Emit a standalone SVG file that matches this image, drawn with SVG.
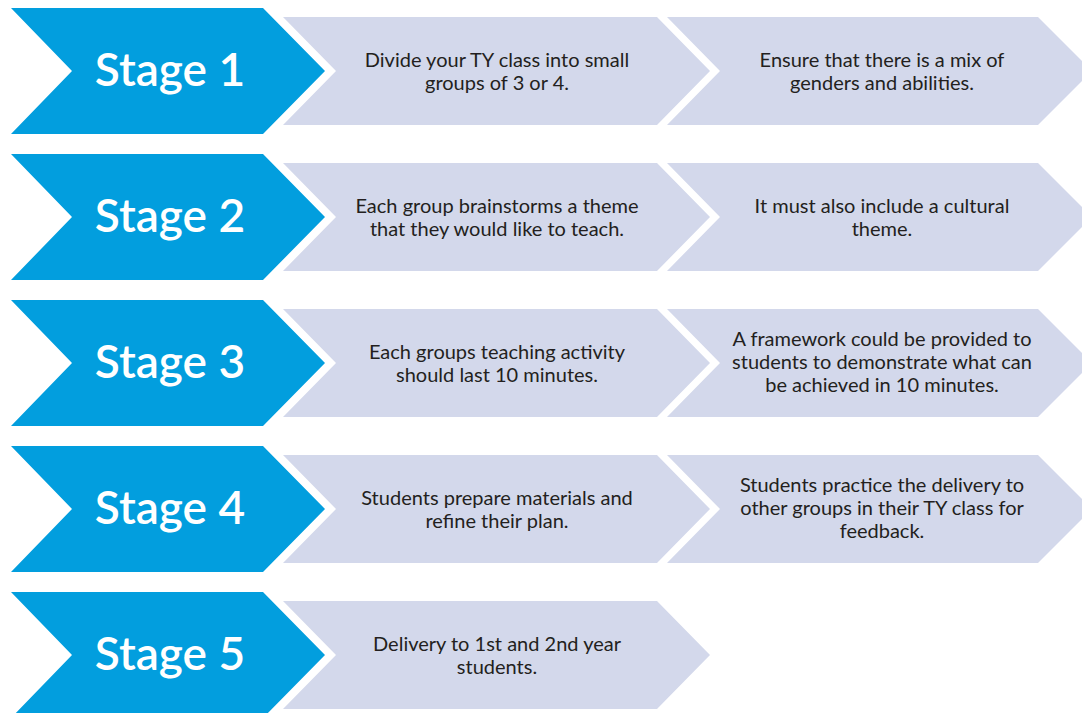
<svg xmlns="http://www.w3.org/2000/svg" width="1082" height="713" viewBox="0 0 1082 713">
  <style>
    .stage { fill: #029ede; }
    .step { fill: #d3d8eb; }
    .stage-label { font-family: Lato, "Noto Sans", sans-serif; font-weight: 600; font-size: 46px; fill: #ffffff; text-anchor: middle; }
    .note { font-family: Lato, "Noto Sans", sans-serif; font-size: 20px; fill: #231f20; text-anchor: middle; }
  </style>
  <defs>
    <polygon id="stage-shape" points="11,8 263,8 325,71 263,134 11,134 72,71"/>
    <polygon id="step-a" points="283,17 657,17 710,71 657,125 283,125 336,71"/>
    <polygon id="step-b" points="667,17 1038,17 1092,71 1038,125 667,125 720,71"/>
  </defs>
  <rect width="1082" height="713" fill="#ffffff"/>

  <!-- Stage 1 -->
  <g id="stage1">
    <use href="#stage-shape" class="stage"/>
    <use href="#step-a" class="step"/>
    <use href="#step-b" class="step"/>
    <text class="stage-label" x="170" y="86">Stage 1</text>
    <text class="note" x="497" y="67">Divide your TY class into small</text>
    <text class="note" x="497" y="90">groups of 3 or 4.</text>
    <text class="note" x="882" y="67">Ensure that there is a mix of</text>
    <text class="note" x="882" y="90">genders and abilities.</text>
  </g>

  <!-- Stage 2 -->
  <g id="stage2" transform="translate(0,146)">
    <use href="#stage-shape" class="stage"/>
    <use href="#step-a" class="step"/>
    <use href="#step-b" class="step"/>
    <text class="stage-label" x="170" y="86">Stage 2</text>
    <text class="note" x="497" y="67">Each group brainstorms a theme</text>
    <text class="note" x="497" y="90">that they would like to teach.</text>
    <text class="note" x="882" y="67">It must also include a cultural</text>
    <text class="note" x="882" y="90">theme.</text>
  </g>

  <!-- Stage 3 -->
  <g id="stage3" transform="translate(0,292)">
    <use href="#stage-shape" class="stage"/>
    <use href="#step-a" class="step"/>
    <use href="#step-b" class="step"/>
    <text class="stage-label" x="170" y="86">Stage 3</text>
    <text class="note" x="497" y="67">Each groups teaching activity</text>
    <text class="note" x="497" y="90">should last 10 minutes.</text>
    <text class="note" x="882" y="54">A framework could be provided to</text>
    <text class="note" x="882" y="77">students to demonstrate what can</text>
    <text class="note" x="882" y="100">be achieved in 10 minutes.</text>
  </g>

  <!-- Stage 4 -->
  <g id="stage4" transform="translate(0,438)">
    <use href="#stage-shape" class="stage"/>
    <use href="#step-a" class="step"/>
    <use href="#step-b" class="step"/>
    <text class="stage-label" x="170" y="86">Stage 4</text>
    <text class="note" x="497" y="67">Students prepare materials and</text>
    <text class="note" x="497" y="90">refine their plan.</text>
    <text class="note" x="882" y="54">Students practice the delivery to</text>
    <text class="note" x="882" y="77">other groups in their TY class for</text>
    <text class="note" x="882" y="100">feedback.</text>
  </g>

  <!-- Stage 5 -->
  <g id="stage5" transform="translate(0,584)">
    <use href="#stage-shape" class="stage"/>
    <use href="#step-a" class="step"/>
    <text class="stage-label" x="170" y="86">Stage 5</text>
    <text class="note" x="497" y="67">Delivery to 1st and 2nd year</text>
    <text class="note" x="497" y="90">students.</text>
  </g>

  <g id="connectors"/>
</svg>
